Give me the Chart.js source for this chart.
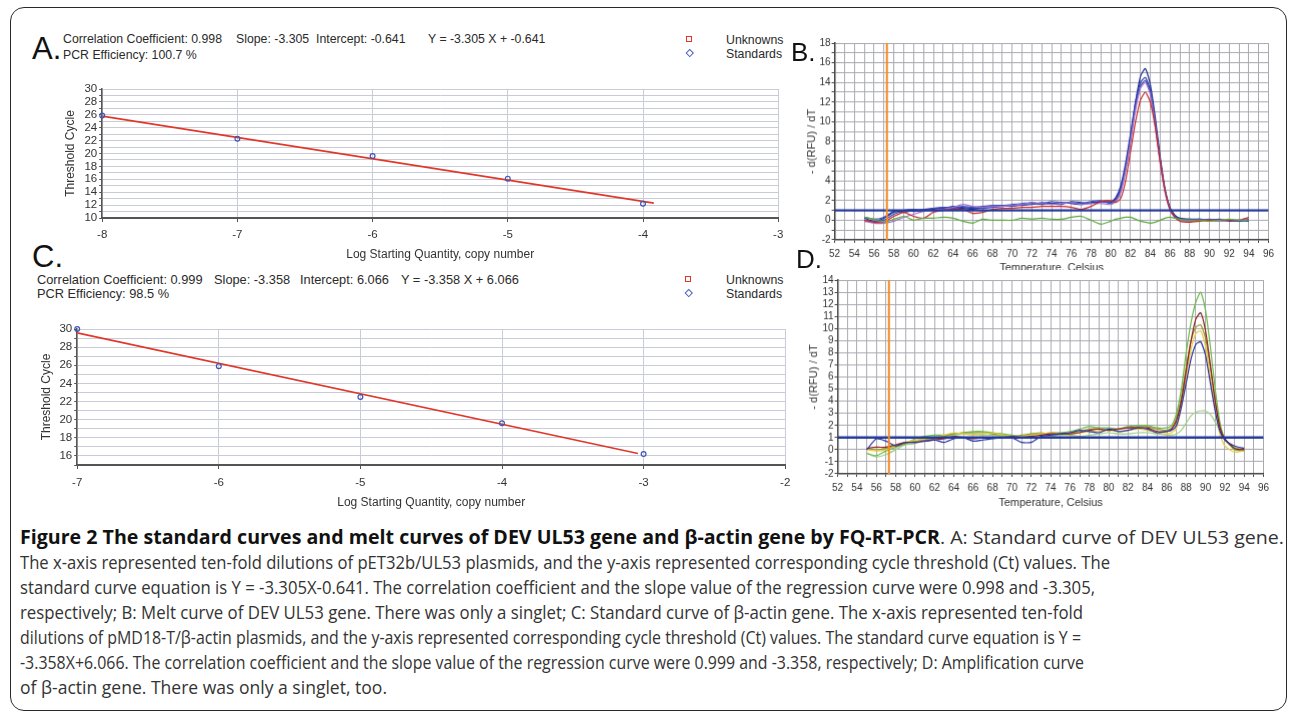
<!DOCTYPE html>
<html>
<head>
<meta charset="utf-8">
<title>Figure 2</title>
<script src="https://cdn.jsdelivr.net/npm/chart.js@4.4.1/dist/chart.umd.min.js"></script>
<style>
  html, body { margin: 0; padding: 0; background: #fff; }
  body { position: relative; width: 1290px; height: 715px; overflow: hidden;
         font-family: 'Liberation Sans', Arial, sans-serif; color: #222; }
  .frame { position: absolute; left: 10px; top: 7px; width: 1275px; height: 702px;
           border: 1.5px solid #2a2a2a; border-radius: 14px; }
  .t { position: absolute; white-space: pre; line-height: 1; }
  .letter { color: #111; z-index: 5; }
  .hdr { font-size: 12.3px; color: #2a2a2a; }
  .sq { position: absolute; width: 4px; height: 4px; border: 1.5px solid #e0342c; }
  .dia { position: absolute; width: 3.5px; height: 3.5px; border: 1.2px solid #4a5cc0; transform: rotate(45deg); }
  .panel { position: absolute; }
  #pD { background: #fff; z-index: 2; }
  .cap { position: absolute; left: 20px; white-space: nowrap; font-family: 'Open Sans', sans-serif;
         font-size: 19px; line-height: 1; color: #333; transform-origin: 0 50%; }
  .cap b { color: #111; }
</style>
</head>
<body>
<div class="frame"></div>

<div class="t letter" style="left:32px;top:33px;font-size:31px">A.</div>
<div class="t letter" style="left:791px;top:39px;font-size:26px">B.</div>
<div class="t letter" style="left:32px;top:241px;font-size:31px">C.</div>
<div class="t letter" style="left:796px;top:246px;font-size:26px">D.</div>

<!-- panel A header -->
<div class="t hdr" style="left:63px;top:33px">Correlation Coefficient: 0.998</div>
<div class="t hdr" style="left:236px;top:33px">Slope: -3.305</div>
<div class="t hdr" style="left:316px;top:33px">Intercept: -0.641</div>
<div class="t hdr" style="left:428px;top:33px">Y = -3.305 X + -0.641</div>
<div class="t hdr" style="left:63px;top:49px">PCR Efficiency: 100.7 %</div>
<div class="sq" style="left:686px;top:36px"></div>
<div class="dia" style="left:687px;top:50px"></div>
<div class="t hdr" style="left:726px;top:34px">Unknowns</div>
<div class="t hdr" style="left:726px;top:48px">Standards</div>

<!-- panel C header -->
<div class="t hdr" style="left:37px;top:274px;font-size:12.8px">Correlation Coefficient: 0.999</div>
<div class="t hdr" style="left:214px;top:274px;font-size:12.8px">Slope: -3.358</div>
<div class="t hdr" style="left:300px;top:274px;font-size:12.8px">Intercept: 6.066</div>
<div class="t hdr" style="left:401px;top:274px;font-size:12.8px">Y = -3.358 X + 6.066</div>
<div class="t hdr" style="left:37px;top:288px;font-size:12.8px">PCR Efficiency: 98.5 %</div>
<div class="sq" style="left:685px;top:276px"></div>
<div class="dia" style="left:686px;top:290px"></div>
<div class="t hdr" style="left:726px;top:274px">Unknowns</div>
<div class="t hdr" style="left:726px;top:288px">Standards</div>

<div class="panel" id="pA"><canvas id="cA"></canvas></div>
<div class="panel" id="pB"><canvas id="cB"></canvas></div>
<div class="panel" id="pC"><canvas id="cC"></canvas></div>
<div class="panel" id="pD"><canvas id="cD"></canvas></div>

<div id="caption"></div>

<script>
// ---- A: standard curve of DEV UL53 ----
const aLogQty = [-8, -7, -6, -5, -4];
const aCt = [25.9, 22.3, 19.6, 16.1, 12.2];
const aFitX = [-8, -3.92];
const aFitY = [25.80, 12.31];
const aXLabels = [-8, -7, -6, -5, -4, -3];
const aYLabels = [10, 12, 14, 16, 18, 20, 22, 24, 26, 28, 30];

// ---- C: standard curve of beta-actin ----
const cLogQty = [-7, -6, -5, -4, -3];
const cCt = [30.0, 25.9, 22.5, 19.6, 16.2];
const cFitX = [-7, -3.04];
const cFitY = [29.57, 16.27];
const cXLabels = [-7, -6, -5, -4, -3, -2];
const cYLabels = [16, 18, 20, 22, 24, 26, 28, 30];

// ---- B: melt curve of DEV UL53 ----
const bTemp = [55, 56, 57, 58, 59, 60, 61, 62, 63, 64, 65, 66, 67, 68, 69, 70, 71, 72, 73, 74, 75, 76, 77, 78, 79, 80,
  80.5, 81, 81.5, 82, 82.5, 83, 83.5, 84, 84.5, 85, 85.5, 86, 86.5,
  87, 88, 89, 90, 91, 92, 93, 94];
const bBlue1 = [0.2, -0.1, 0.2, 0.8, 1.0, 0.9, 1.0, 1.1, 1.3, 1.3,
  1.2, 1.1, 1.3, 1.4, 1.5, 1.4, 1.6, 1.7, 1.6, 1.7,
  1.8, 1.7, 1.6, 1.8, 1.9, 1.8,
  2.2, 3.2, 5.5, 8.5, 12.0, 14.6, 15.4, 13.8, 10.5, 6.5, 3.2, 1.3, 0.5,
  0.2, 0.1, 0.1, 0.0, -0.1, 0.0, -0.1, 0.0];
const bBlue2 = [0.3, 0.1, 0.3, 0.9, 0.8, 1.0, 1.1, 1.2, 1.2, 1.4,
  1.3, 1.2, 1.2, 1.3, 1.4, 1.5, 1.5, 1.6, 1.8, 1.7,
  1.6, 1.9, 1.8, 1.7, 1.9, 1.9,
  2.3, 3.5, 5.8, 8.8, 12.0, 14.0, 14.5, 13.2, 10.0, 6.2, 3.0, 1.2, 0.4,
  0.1, 0.0, 0.1, 0.0, 0.1, -0.1, 0.0, -0.1];
const bBlue3 = [0.0, -0.2, 0.0, 0.6, 1.0, 1.1, 1.0, 1.2, 1.3, 1.2,
  1.4, 1.3, 1.4, 1.5, 1.5, 1.6, 1.7, 1.8, 1.7, 1.9,
  1.8, 1.8, 1.7, 1.9, 2.0, 1.7,
  2.0, 3.0, 5.2, 8.2, 11.5, 13.6, 14.2, 13.0, 9.8, 6.0, 2.9, 1.1, 0.3,
  0.0, 0.1, 0.0, 0.1, 0.0, 0.0, -0.1, 0.1];
const bPurple = [-0.1, -0.3, -0.3, -0.1, 0.3, 0.6, 0.9, 1.0, 1.1, 1.3,
  1.6, 1.4, 1.3, 1.4, 1.4, 1.5, 1.6, 1.8, 1.7, 1.6,
  1.7, 1.8, 1.6, 1.7, 1.7, 1.6,
  1.9, 2.8, 5.0, 8.0, 11.2, 13.4, 14.0, 12.8, 9.6, 5.8, 2.8, 1.0, 0.3,
  0.0, -0.1, 0.0, 0.0, -0.1, 0.0, 0.0, 0.2];
const bRed = [0.0, -0.2, -0.2, 0.4, 0.8, 0.4, 0.2, 0.8, 1.0, 1.1,
  1.1, 0.7, 0.8, 1.1, 1.2, 1.2, 1.3, 1.3, 1.4, 1.4,
  1.4, 1.3, 1.1, 1.4, 1.9, 2.0,
  1.8, 2.2, 4.0, 7.0, 10.0, 12.2, 13.0, 12.0, 9.5, 6.0, 3.0, 1.1, 0.3,
  -0.1, -0.2, -0.1, 0.0, 0.0, 0.0, 0.0, 0.3];
const bGreen = [0.3, 0.1, -0.2, 0.1, 0.4, 0.0, 0.2, 0.2, 0.3, 0.2,
  -0.1, -0.3, 0.1, 0.0, 0.0, 0.0, 0.2, 0.1, 0.2, 0.1,
  0.1, 0.3, 0.4, 0.0, -0.4, -0.1,
  0.1, 0.2, 0.3, 0.3, 0.1, -0.1, -0.2, -0.3, -0.2, 0.0, 0.2, 0.3, 0.2,
  0.1, 0.0, 0.0, -0.1, 0.0, 0.1, 0.0, 0.0];
const bXLabels = [52, 54, 56, 58, 60, 62, 64, 66, 68, 70, 72, 74, 76, 78, 80, 82, 84, 86, 88, 90, 92, 94, 96];
const bYLabels = [-2, 0, 2, 4, 6, 8, 10, 12, 14, 16, 18];
const bCursor = 57.3;
const bThreshold = 1.0;

// ---- D: curve of beta-actin ----
const dTemp = [55, 56, 57, 58, 59, 60, 61, 62, 63, 64, 65, 66, 67, 68, 69, 70, 71, 72, 73, 74,
  75, 76, 77, 78, 79, 80, 81, 82, 83, 84, 85, 86,
  86.5, 87, 87.5, 88, 88.5, 89, 89.5, 90, 90.5, 91, 91.5, 92, 93, 94];
const dGreen = [-0.3, -0.5, -0.1, 0.2, 0.5, 0.9, 1.1, 1.2, 1.2, 1.3,
  1.4, 1.5, 1.5, 1.4, 1.3, 1.2, 1.1, 1.3, 1.3, 1.4,
  1.4, 1.5, 1.7, 1.9, 1.8, 1.8, 1.7, 1.9, 2.0, 2.0, 1.8, 1.8,
  2.0, 3.0, 5.0, 8.0, 10.5, 12.2, 13.0, 11.5, 8.5, 5.0, 2.2, 0.9, 0.0, -0.1];
const dRed = [0.1, 0.2, 0.2, 0.4, 0.6, 0.6, 0.7, 0.8, 0.9, 1.1,
  1.0, 0.9, 1.0, 1.0, 1.0, 1.1, 1.0, 1.1, 1.2, 1.3,
  1.3, 1.3, 1.4, 1.6, 1.7, 1.6, 1.7, 1.8, 1.8, 1.8, 1.5, 1.5,
  1.7, 2.4, 4.0, 6.5, 9.0, 10.8, 11.3, 9.8, 7.0, 4.0, 1.8, 0.9, 0.1, 0.0];
const dOlive = [0.1, 0.0, 0.1, 0.3, 0.5, 0.7, 0.8, 0.9, 1.1, 1.3,
  1.4, 1.4, 1.4, 1.3, 1.2, 1.1, 1.2, 1.3, 1.4, 1.3,
  1.3, 1.4, 1.5, 1.7, 1.7, 1.6, 1.7, 1.8, 1.9, 1.9, 1.7, 1.6,
  1.8, 2.6, 4.3, 6.8, 9.0, 10.1, 10.3, 9.2, 6.8, 4.0, 1.9, 0.8, 0.1, 0.0];
const dYellow = [0.0, -0.1, 0.0, 0.3, 0.6, 0.8, 0.9, 1.0, 1.2, 1.4,
  1.3, 1.2, 1.3, 1.4, 1.2, 1.1, 1.1, 1.2, 1.3, 1.4,
  1.3, 1.3, 1.4, 1.5, 1.5, 1.6, 1.5, 1.6, 1.7, 1.6, 1.4, 1.3,
  1.4, 1.8, 3.5, 6.0, 8.3, 9.6, 9.8, 8.5, 6.0, 3.3, 1.2, 0.3, -0.2, -0.1];
const dBlue = [0.0, 0.9, 0.7, 0.3, 0.6, 0.6, 0.7, 0.8, 0.6, 0.9,
  1.0, 0.7, 0.8, 0.9, 1.0, 1.0, 0.6, 0.6, 1.1, 1.2,
  1.3, 1.4, 1.6, 1.5, 1.4, 1.7, 1.5, 1.6, 1.8, 1.7, 1.4, 1.5,
  1.6, 2.0, 3.5, 5.5, 7.5, 8.7, 8.9, 7.8, 5.5, 3.2, 1.5, 0.8, 0.3, 0.1];
const dLightGreen = [-0.3, -0.6, -0.4, 0.0, 0.4, 0.5, 0.8, 1.0, 1.1, 1.2,
  1.3, 1.3, 1.2, 1.2, 1.1, 1.0, 1.0, 1.1, 1.0, 1.1,
  1.2, 1.2, 1.1, 1.2, 1.3, 1.4, 1.3, 1.3, 1.4, 1.4, 1.3, 1.2,
  1.2, 1.3, 1.6, 2.2, 2.8, 3.1, 3.2, 3.2, 2.9, 2.3, 1.5, 0.8, 0.2, 0.0];
const dXLabels = bXLabels;
const dYLabels = [-2, -1, 0, 1, 2, 3, 4, 5, 6, 7, 8, 9, 10, 11, 12, 13, 14];
const dCursor = 57.3;
const dThreshold = 1.0;

Chart.defaults.font.family = "'Liberation Sans', Arial, sans-serif";
Chart.defaults.color = '#333';

const pts = (xs, ys) => xs.map((x, i) => ({ x, y: ys[i] }));

// places the wrapper so that the plot area lands on L,T,R,B (page px)
function place(id, g) {
  const lh = g.titleSize * 1.2;
  const left = g.yTitleX - lh / 2;
  const top = g.T - g.padTop;
  const right = g.R + g.padRight;
  const bottom = g.xTitleY + lh / 2;
  Object.assign(document.getElementById(id).style, {
    left: left + 'px', top: top + 'px',
    width: (right - left) + 'px', height: (bottom - top) + 'px'
  });
  return { yW: g.L - left, xH: bottom - g.B, pad: { top: g.padTop, right: g.padRight, left: 0, bottom: 0 } };
}

function axis(o) {
  return {
    type: 'linear', min: o.min, max: o.max,
    afterFit: s => { if (s.isHorizontal()) s.height = o.size; else s.width = o.size; },
    ticks: {
      stepSize: 1, autoSkip: false, maxRotation: 0, maxTicksLimit: 200,
      padding: o.pad, color: '#333', font: { size: o.font },
      callback: v => o.labels.includes(v) ? String(v) : ''
    },
    grid: { color: o.grid, tickLength: o.tick, tickColor: o.tickColor, lineWidth: 1 },
    border: { display: true, color: o.axisColor, width: o.axisWidth },
    title: { display: true, text: o.title, padding: 0, color: '#333', font: { size: o.titleSize } }
  };
}

function options(geo, x, y) {
  return {
    responsive: true, maintainAspectRatio: false, animation: false,
    layout: { padding: geo.pad },
    plugins: { legend: { display: false }, tooltip: { enabled: false } },
    scales: { x, y }
  };
}

function standardChart(canvasId, geo, s) {
  new Chart(document.getElementById(canvasId), {
    type: 'scatter',
    data: {
      datasets: [
        { data: pts(s.qty, s.ct), showLine: false, pointStyle: 'circle', pointRadius: 2.4,
          borderColor: '#3f55b5', backgroundColor: 'rgba(255,255,255,0)', borderWidth: 1.2, clip: false },
        { data: pts(s.fitX, s.fitY), showLine: true, pointRadius: 0, borderColor: '#e2382b', borderWidth: 1.6 }
      ]
    },
    options: options(geo,
      axis({ min: s.xmin, max: s.xmax, size: geo.xH, pad: s.xPad, font: 11.5, labels: s.xLabels,
        grid: '#c9cbd6', tick: 4, tickColor: '#555', axisColor: '#555', axisWidth: 2,
        title: 'Log Starting Quantity, copy number', titleSize: 12 }),
      axis({ min: s.ymin, max: s.ymax, size: geo.yW, pad: 2, font: 11.5, labels: s.yLabels,
        grid: '#c9cbd6', tick: 3, tickColor: '#555', axisColor: '#555', axisWidth: 1.5,
        title: 'Threshold Cycle', titleSize: 12 }))
  });
}

function meltChart(canvasId, geo, s) {
  const curves = s.curves.map(([ys, color]) => ({
    data: pts(s.temp, ys), showLine: true, pointRadius: 0, borderColor: color,
    borderWidth: 1.2, tension: 0.2
  }));
  new Chart(document.getElementById(canvasId), {
    type: 'scatter',
    data: {
      datasets: [
        { data: pts([s.cursor, s.cursor], [s.ymin, s.ymax]), showLine: true, pointRadius: 0,
          borderColor: '#f08a24', borderWidth: 2 },
        { data: pts([52, 96], [s.threshold, s.threshold]), showLine: true, pointRadius: 0,
          borderColor: '#23389a', borderWidth: 2.4 }
      ].concat(curves)
    },
    options: options(geo,
      axis({ min: 52, max: 96, size: geo.xH, pad: 5, font: 10, labels: s.xLabels,
        grid: '#a9a9b2', tick: 3, tickColor: '#444', axisColor: '#444', axisWidth: 1.5,
        title: 'Temperature, Celsius', titleSize: 11 }),
      axis({ min: s.ymin, max: s.ymax, size: geo.yW, pad: 1, font: 10, labels: s.yLabels,
        grid: '#a9a9b2', tick: 3, tickColor: '#444', axisColor: '#444', axisWidth: 1.5,
        title: '- d(RFU) / dT', titleSize: 11 }))
  });
}

const gA = place('pA', { L: 102, T: 89, R: 778, B: 218, yTitleX: 70, xTitleY: 255, padTop: 10, padRight: 14, titleSize: 12 });
const gC = place('pC', { L: 77, T: 329, R: 785, B: 465, yTitleX: 46, xTitleY: 503, padTop: 10, padRight: 14, titleSize: 12 });
const gB = place('pB', { L: 835, T: 43, R: 1268, B: 239, yTitleX: 812, xTitleY: 267, padTop: 10, padRight: 12, titleSize: 11 });
const gD = place('pD', { L: 838, T: 280, R: 1263, B: 473, yTitleX: 814, xTitleY: 502, padTop: 10, padRight: 12, titleSize: 11 });

standardChart('cA', gA, { qty: aLogQty, ct: aCt, fitX: aFitX, fitY: aFitY, xmin: -8, xmax: -3, ymin: 10, ymax: 30,
  xLabels: aXLabels, yLabels: aYLabels, xPad: 6 });
standardChart('cC', gC, { qty: cLogQty, ct: cCt, fitX: cFitX, fitY: cFitY, xmin: -7, xmax: -2, ymin: 15, ymax: 30,
  xLabels: cXLabels, yLabels: cYLabels, xPad: 7 });

meltChart('cB', gB, { temp: bTemp, ymin: -2, ymax: 18, cursor: bCursor, threshold: bThreshold,
  xLabels: bXLabels, yLabels: bYLabels,
  curves: [[bGreen, '#5aa83a'], [bRed, '#c82828'], [bPurple, '#a070d0'], [bBlue3, '#3a4cb8'],
           [bBlue2, '#2a3aa8'], [bBlue1, '#1c2c8c']] });
meltChart('cD', gD, { temp: dTemp, ymin: -2, ymax: 14, cursor: dCursor, threshold: dThreshold,
  xLabels: dXLabels, yLabels: dYLabels,
  curves: [[dBlue, '#2830a0'], [dRed, '#8e1c1c'], [dYellow, '#ecc840'], [dOlive, '#8c9a28'],
           [dGreen, '#6ab84a'], [dLightGreen, '#9ad080']] });

// ---- caption ----
const captionLines = [
  ['<b>Figure 2 The standard curves and melt curves of DEV UL53 gene and β-actin gene by FQ-RT-PCR</b>. A: Standard curve of DEV UL53 gene.', 1264],
  ['The x-axis represented ten-fold dilutions of pET32b/UL53 plasmids, and the y-axis represented corresponding cycle threshold (Ct) values. The', 1090],
  ['standard curve equation is Y = -3.305X-0.641. The correlation coefficient and the slope value of the regression curve were 0.998 and -3.305,', 1075],
  ['respectively; B: Melt curve of DEV UL53 gene. There was only a singlet; C: Standard curve of β-actin gene. The x-axis represented ten-fold', 1063],
  ['dilutions of pMD18-T/β-actin plasmids, and the y-axis represented corresponding cycle threshold (Ct) values. The standard curve equation is Y =', 1061],
  ['-3.358X+6.066. The correlation coefficient and the slope value of the regression curve were 0.999 and -3.358, respectively; D: Amplification curve', 1064],
  ['of β-actin gene. There was only a singlet, too.', 367]
];
const capBox = document.getElementById('caption');
captionLines.forEach(([html, w], i) => {
  const el = document.createElement('div');
  el.className = 'cap';
  el.innerHTML = html;
  el.dataset.w = w;
  el.style.top = (527.5 + i * 25) + 'px';
  capBox.appendChild(el);
});
function fitCaption() {
  document.querySelectorAll('.cap').forEach(el => {
    el.style.transform = 'none';
    const w = el.getBoundingClientRect().width;
    el.style.transform = 'scaleX(' + (el.dataset.w / w) + ')';
  });
}
fitCaption();
document.fonts.ready.then(fitCaption);
</script>
</body>
</html>
